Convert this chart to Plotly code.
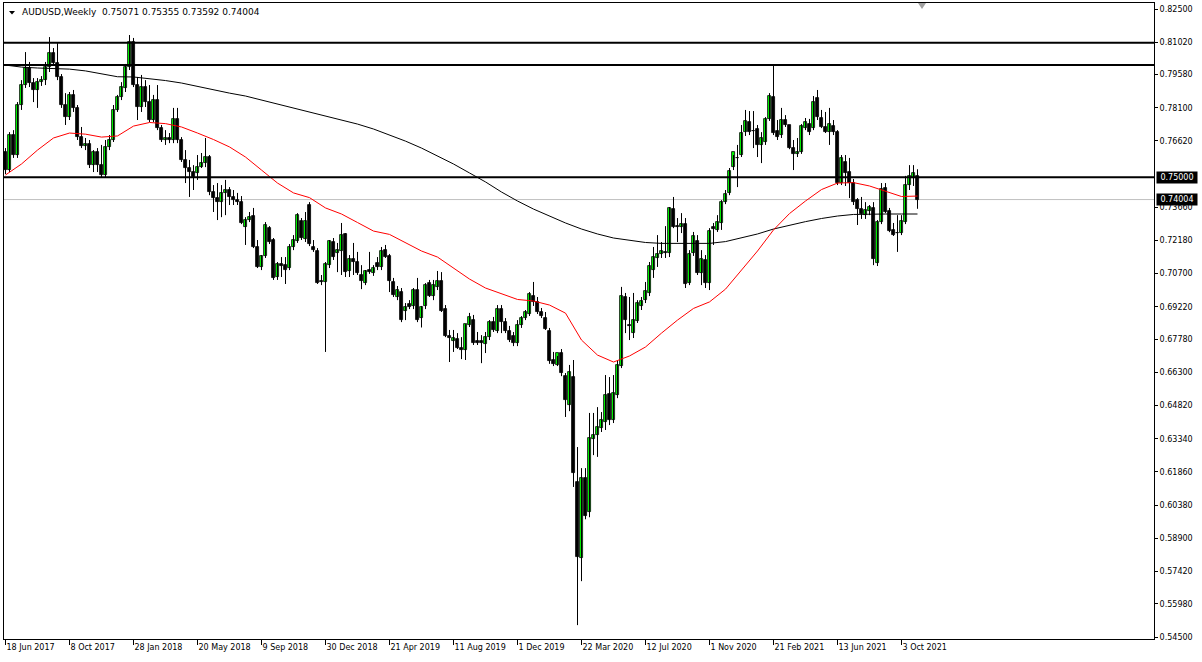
import numpy as np
import pandas as pd
import plotly.graph_objects as go

# ---------------- data ----------------
start_date = "2017-06-18"

opens = [.7612,.7532,.7688,.7599,.7822,.7911,.7987,.7920,.7889,.7924,.7933,.7991,.8054,.8009,.7947,.7822,.7768,.7867,.7809,.7679,
         .7639,.7648,.7554,.7612,.7554,.7510,.7635,.7666,.7800,.7858,.7898,.7991,.8103,.7911,.7813,.7902,.7835,.7755,.7844,.7719,
         .7666,.7675,.7666,.7760,.7666,.7577,.7541,.7523,.7519,.7545,.7563,.7590,.7434,.7407,.7389,.7430,.7443,.7412,.7398,.7390,
         .7278,.7309,.7327,.7189,.7100,.7149,.7273,.7220,.7055,.7113,.7108,.7095,.7189,.7216,.7305,.7224,.7376,.7189,.7171,.7037,
         .7033,.7108,.7211,.7162,.7171,.7247,.7082,.7135,.7122,.7064,.7028,.7086,.7073,.7117,.7100,.7175,.7149,.7033,.6966,.6988,
         .6903,.6934,.6926,.6997,.6872,.6926,.7028,.6970,.7011,.7037,.6912,.6792,.6770,.6779,.6738,.6730,.6841,.6863,.6770,.6770,
         .6756,.6787,.6854,.6814,.6912,.6854,.6814,.6792,.6761,.6841,.6872,.6890,.6970,.6944,.6899,.6872,.6814,.6685,.6663,.6716,
         .6613,.6484,.6609,.6141,.5802,.6159,.6007,.6333,.6350,.6382,.6408,.6533,.6417,.6529,.6658,.6966,.6841,.6805,.6859,.6926,
         .6952,.6984,.7086,.7140,.7158,.7167,.7162,.7358,.7282,.7278,.7291,.7028,.7162,.7216,.7073,.7131,.7028,.7278,.7265,.7296,
         .7389,.7430,.7545,.7586,.7599,.7701,.7746,.7706,.7715,.7644,.7657,.7760,.7858,.7706,.7688,.7755,.7733,.7630,.7604,.7612,
         .7719,.7737,.7719,.7853,.7764,.7724,.7701,.7728,.7701,.7474,.7568,.7523,.7474,.7398,.7358,.7331,.7349,.7363,.7117,.7300,
         .7452,.7349,.7265,.7251,.7251,.7300,.7465,.7497,.75071]
highs = [.7630,.7701,.7710,.7835,.7933,.8058,.8014,.7942,.7942,.7951,.8014,.8125,.8076,.8098,.7960,.7875,.7880,.7889,.7822,.7724,
         .7675,.7666,.7621,.7630,.7644,.7666,.7688,.7822,.7867,.7924,.8005,.8134,.8121,.7947,.7956,.7933,.7911,.7867,.7911,.7733,
         .7710,.7697,.7809,.7809,.7679,.7621,.7577,.7554,.7599,.7608,.7675,.7599,.7465,.7474,.7465,.7488,.7456,.7443,.7430,.7416,
         .7322,.7345,.7363,.7220,.7153,.7300,.7282,.7229,.7122,.7144,.7144,.7202,.7242,.7340,.7318,.7345,.7389,.7220,.7184,.7064,
         .7122,.7220,.7229,.7207,.7296,.7251,.7153,.7207,.7167,.7108,.7086,.7167,.7108,.7144,.7189,.7198,.7158,.7051,.7015,.7006,
         .6939,.6952,.7006,.7051,.6926,.7028,.7042,.7042,.7082,.7077,.6930,.6819,.6819,.6805,.6787,.6845,.6895,.6886,.6810,.6796,
         .6810,.6863,.6877,.6930,.6930,.6872,.6837,.6810,.6863,.6881,.6908,.6988,.7033,.6966,.6917,.6899,.6828,.6721,.6703,.6734,
         .6627,.6663,.6685,.6297,.6203,.6203,.6449,.6449,.6475,.6453,.6618,.6609,.6618,.6685,.7011,.6984,.6966,.6984,.6952,.6966,
         .7033,.7122,.7189,.7242,.7211,.7282,.7367,.7412,.7318,.7340,.7318,.7175,.7256,.7242,.7175,.7153,.7273,.7296,.7331,.7398,
         .7443,.7541,.7599,.7644,.7733,.7800,.7795,.7795,.7733,.7701,.7768,.7875,.8000,.7755,.7809,.7777,.7733,.7666,.7675,.7737,
         .7764,.7760,.7862,.7889,.7800,.7791,.7809,.7755,.7710,.7599,.7599,.7586,.7492,.7407,.7412,.7389,.7376,.7389,.7309,.7474,
         .7474,.7363,.7296,.7331,.7331,.7506,.7554,.7554,.75355]
lows = [.7514,.7523,.7586,.7586,.7800,.7898,.7902,.7835,.7809,.7907,.7911,.7969,.7996,.7933,.7809,.7733,.7755,.7791,.7666,.7630,
        .7621,.7541,.7523,.7523,.7501,.7501,.7621,.7657,.7791,.7844,.7880,.7978,.7902,.7755,.7791,.7813,.7746,.7746,.7710,.7657,
        .7644,.7652,.7652,.7652,.7568,.7474,.7412,.7443,.7488,.7541,.7545,.7420,.7345,.7309,.7322,.7331,.7376,.7376,.7376,.7291,
        .7198,.7300,.7184,.7095,.7086,.7140,.7202,.7042,.7042,.7055,.7024,.7086,.7175,.7207,.7220,.7211,.7193,.7167,.7024,.7019,
        .6721,.7095,.7131,.7077,.7064,.7055,.7055,.7064,.7064,.7001,.7019,.7069,.7060,.7086,.7086,.7140,.6988,.6966,.6952,.6854,
        .6863,.6912,.6912,.6854,.6830,.6912,.6966,.6952,.6997,.6899,.6787,.6676,.6721,.6734,.6689,.6685,.6832,.6752,.6752,.6671,
        .6716,.6774,.6810,.6805,.6805,.6805,.6765,.6747,.6747,.6828,.6863,.6881,.6926,.6890,.6872,.6819,.6668,.6658,.6658,.6613,
        .6431,.6457,.6119,.5503,.5699,.5975,.5984,.6261,.6253,.6364,.6373,.6395,.6404,.6515,.6649,.6805,.6774,.6783,.6850,.6908,
        .6939,.6970,.7051,.7100,.7140,.7140,.7144,.7273,.7211,.7251,.7006,.7019,.7149,.7064,.7019,.7006,.6997,.7198,.7256,.7265,
        .7380,.7420,.7532,.7456,.7590,.7684,.7688,.7630,.7590,.7563,.7644,.7751,.7688,.7666,.7675,.7724,.7625,.7532,.7590,.7604,
        .7710,.7688,.7710,.7755,.7719,.7697,.7644,.7688,.7465,.7465,.7461,.7407,.7376,.7287,.7314,.7314,.7331,.7108,.7104,.7291,
        .7340,.7255,.7238,.7167,.7242,.7291,.7443,.7461,.73592]
closes = [.7532,.7688,.7599,.7822,.7911,.7987,.7920,.7889,.7924,.7933,.7991,.8054,.8009,.7947,.7822,.7768,.7867,.7809,.7679,.7639,
          .7648,.7554,.7612,.7554,.7510,.7635,.7666,.7800,.7858,.7902,.7991,.8103,.7911,.7813,.7902,.7835,.7755,.7844,.7719,.7666,
          .7675,.7666,.7760,.7666,.7577,.7541,.7523,.7501,.7545,.7563,.7590,.7434,.7407,.7389,.7430,.7443,.7412,.7398,.7390,.7296,
          .7309,.7322,.7189,.7100,.7149,.7287,.7211,.7051,.7113,.7104,.7086,.7189,.7220,.7331,.7229,.7305,.7202,.7175,.7028,.7035,
          .7113,.7216,.7144,.7175,.7242,.7077,.7135,.7122,.7073,.7037,.7082,.7077,.7095,.7100,.7171,.7144,.7037,.6975,.6997,.6863,
          .6921,.6921,.6997,.6863,.6921,.7019,.6970,.7019,.7037,.6903,.6792,.6783,.6783,.6738,.6730,.6845,.6877,.6761,.6761,.6761,
          .6787,.6854,.6819,.6912,.6854,.6814,.6774,.6761,.6841,.6872,.6899,.6979,.6944,.6899,.6881,.6823,.6680,.6667,.6716,.6627,
          .6506,.6631,.6181,.5807,.6159,.5990,.6337,.6350,.6386,.6417,.6529,.6417,.6538,.6663,.6970,.6863,.6837,.6863,.6939,.6948,
          .6993,.7104,.7144,.7158,.7171,.7162,.7363,.7278,.7280,.7291,.7024,.7158,.7238,.7073,.7135,.7028,.7260,.7269,.7300,.7389,
          .7425,.7528,.7612,.7584,.7697,.7751,.7701,.7704,.7644,.7675,.7760,.7862,.7697,.7679,.7755,.7733,.7630,.7604,.7612,.7728,
          .7746,.7701,.7835,.7768,.7724,.7701,.7737,.7701,.7474,.7586,.7519,.7474,.7389,.7358,.7336,.7354,.7367,.7135,.7300,.7447,
          .7345,.7260,.7242,.7253,.7305,.7465,.7506,.7520,.74004]

# moving averages, read every 4th week
ma_red = [.7510,.7559,.7621,.7675,.7697,.7692,.7679,.7684,.7728,.7744,.7739,.7724,.7697,.7668,.7635,.7590,.7532,.7474,.7430,.7409,
          .7363,.7336,.7298,.7260,.7245,.7207,.7171,.7144,.7093,.7046,.7006,.6979,.6955,.6948,.6930,.6894,.6774,.6707,.6676,.6703,
          .6743,.6805,.6863,.6915,.6944,.7001,.7086,.7171,.7265,.7338,.7394,.7445,.7474,.7476,.7461,.7438,.7414,.7416]
ma_black = [.8000,.7991,.7987,.7986,.7982,.7974,.7960,.7948,.7947,.7940,.7931,.7920,.7904,.7889,.7875,.7862,.7844,.7826,.7809,.7791,
            .7773,.7755,.7737,.7715,.7688,.7661,.7630,.7595,.7559,.7519,.7479,.7434,.7394,.7358,.7327,.7296,.7269,.7247,.7229,.7218,
            .7209,.7205,.7204,.7204,.7205,.7213,.7231,.7247,.7269,.7287,.7302,.7316,.7327,.7334,.7336,.7336,.7336,.7336]

levels = [0.8100, 0.8000, 0.7500]
bid_price = 0.74004
header_text = "AUDUSD,Weekly  0.75071 0.75355 0.73592 0.74004"
ytick_vals = [0.8250, 0.8102, 0.7958, 0.7810, 0.7662, 0.7366, 0.7218, 0.7070, 0.6922,
              0.6778, 0.6630, 0.6482, 0.6334, 0.6186, 0.6038, 0.5890, 0.5742, 0.5598, 0.5450]

# ---------------- build ----------------
dates = pd.date_range(start_date, periods=len(opens), freq="7D")
o = np.array(opens); h = np.array(highs); l = np.array(lows); c = np.array(closes)
up = c >= o
week_ms = 7 * 24 * 3600 * 1000
body_w = 0.6 * week_ms
body_base = np.minimum(o, c)
body_h = np.maximum(np.abs(c - o), 0.00006)

FONT = "DejaVu Sans"
fig = go.Figure()

# wicks
wx, wy = [], []
for d, hi, lo in zip(dates, h, l):
    wx += [d, d, None]
    wy += [lo, hi, None]
fig.add_trace(go.Scatter(x=wx, y=wy, mode="lines", line=dict(color="black", width=1),
                         hoverinfo="skip", showlegend=False))

# bodies
fig.add_trace(go.Bar(x=dates[up], y=body_h[up], base=body_base[up], width=body_w,
                     marker=dict(color="#00FF00", line=dict(color="black", width=0.8)),
                     showlegend=False))
fig.add_trace(go.Bar(x=dates[~up], y=body_h[~up], base=body_base[~up], width=body_w,
                     marker=dict(color="black", line=dict(color="black", width=0.8)),
                     showlegend=False))

ma_dates = dates[::4]
fig.add_trace(go.Scatter(x=ma_dates, y=ma_black, mode="lines",
                         line=dict(color="black", width=1), showlegend=False))
fig.add_trace(go.Scatter(x=ma_dates, y=ma_red, mode="lines",
                         line=dict(color="red", width=1), showlegend=False))

# horizontal levels
for lv in levels:
    fig.add_shape(type="line", xref="paper", x0=0, x1=1, yref="y", y0=lv, y1=lv,
                  line=dict(color="black", width=2))
fig.add_shape(type="line", xref="paper", x0=0, x1=1, yref="y", y0=bid_price, y1=bid_price,
              line=dict(color="#C0C0C0", width=1), layer="below")

# price boxes on right axis
for val in [0.75, bid_price]:
    fig.add_annotation(xref="paper", x=1, xanchor="left", xshift=2, yref="y", y=val,
                       text=f"{val:.5f}", showarrow=False, bgcolor="black",
                       font=dict(family=FONT, size=8, color="white"),
                       width=40, height=11, borderpad=0)

# header
fig.add_annotation(xref="paper", x=0, xanchor="left", xshift=16, yref="paper", y=1,
                   yanchor="middle", yshift=-9, text=header_text, showarrow=False,
                   font=dict(family=FONT, size=9, color="black"))
W, H_ = 1150.0, 636.0
fig.add_shape(type="path", xref="paper", yref="paper",
              path=f"M {5/W} {1-8/H_} L {11/W} {1-8/H_} L {8/W} {1-11.5/H_} Z",
              fillcolor="black", line=dict(width=0))
fig.add_shape(type="path", xref="paper", yref="paper",
              path=f"M {914/W} {1} L {922/W} {1} L {918/W} {1-6/H_} Z",
              fillcolor="#A0A0A0", line=dict(width=0))

start = pd.Timestamp(start_date)
x0 = start - pd.Timedelta(weeks=0.375)
x1 = start + pd.Timedelta(weeks=287.125)

fig.update_layout(
    width=1202, height=662,
    margin=dict(l=4, r=48, t=3, b=23, pad=0, autoexpand=False),
    paper_bgcolor="white", plot_bgcolor="white",
    barmode="overlay", bargap=0,
    font=dict(family=FONT, size=8, color="black"),
    xaxis=dict(type="date", range=[x0, x1], showgrid=False, zeroline=False, automargin=False,
               showline=True, linecolor="black", linewidth=1, mirror=True,
               ticks="outside", ticklen=5, tickcolor="black",
               tickvals=dates[::16], tickformat="%-d %b %Y",
               ticklabelposition="outside right",
               tickfont=dict(family=FONT, size=8, color="black")),
    yaxis=dict(range=[0.54411, 0.82768], side="right", showgrid=False, zeroline=False, automargin=False,
               showline=True, linecolor="black", linewidth=1, mirror=True,
               ticks="outside", ticklen=3, tickcolor="black",
               tickvals=ytick_vals, ticktext=[f"{v:.5f}" for v in ytick_vals],
               tickfont=dict(family=FONT, size=8, color="black")),
)

fig.write_html("out.html", config={"displayModeBar": False},
               post_script="document.body.style.margin='0';document.body.style.overflow='hidden';")
